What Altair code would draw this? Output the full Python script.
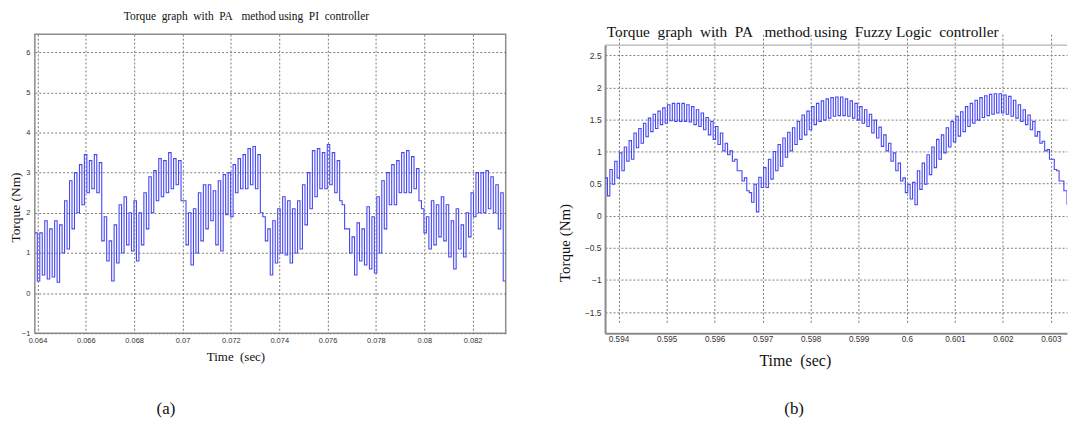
import altair as alt
import pandas as pd

# ---------------- data ----------------
TITLES = ["Torque\u00a0 graph\u00a0 with\u00a0 PA\u00a0\u00a0 method using\u00a0 PI\u00a0 controller",
          "Torque\u00a0 graph\u00a0 with\u00a0 PA\u00a0\u00a0 method using\u00a0 Fuzzy Logic\u00a0 controller"]
X_TITLE = "Time\u00a0 (sec)"
Y_TITLE = "Torque (Nm)"
PANEL_LABELS = ["(a)", "(b)"]

LEFT_X_TICKS = [0.064, 0.066, 0.068, 0.07, 0.072, 0.074, 0.076, 0.078, 0.08, 0.082]
LEFT_Y_TICKS = [-1, 0, 1, 2, 3, 4, 5, 6]
RIGHT_X_TICKS = [0.594, 0.595, 0.596, 0.597, 0.598, 0.599, 0.6, 0.601, 0.602, 0.603]
RIGHT_Y_TICKS = [-1.5, -1, -0.5, 0, 0.5, 1, 1.5, 2, 2.5]

LEFT_T_START = 0.06389
LEFT_T_END = 0.083368
RIGHT_T_START = 0.59372
RIGHT_T_END = 0.603335
RIGHT_PULSE = 0.0001

# PI controller: high / low level of each switching pulse
LEFT_HI = [1.5, 1.5, 1.8, 1.6, 1.8, 1.7, 2.3, 2.8, 3.0, 3.2, 3.45, 3.3, 3.45, 3.25, 1.9, 1.3,
           1.7, 2.2, 2.4, 2.0, 2.3, 2.0, 2.5, 2.9, 3.05, 3.35, 3.3, 3.5, 3.35, 3.3, 2.3, 2.0,
           2.1, 2.5, 2.7, 2.7, 2.55, 2.8, 2.95, 3.0, 3.2, 3.35, 3.45, 3.6, 3.65, 3.45, 1.9, 1.6,
           1.8, 2.1, 2.4, 2.3, 2.1, 2.3, 2.7, 3.0, 3.55, 3.6, 3.5, 3.7, 3.5, 3.3, 2.2,
           1.6, 1.4, 1.75, 1.6, 2.15, 1.9, 2.4, 2.8, 3.0, 3.2, 3.3, 3.5, 3.55, 3.4, 3.1, 2.1,
           1.9, 2.3, 2.2, 2.4, 2.2, 1.8, 2.1, 1.7, 2.0, 2.5, 3.0, 3.0, 3.05, 2.9, 2.7, 2.5]
LEFT_LO = [0.3, 0.45, 0.35, 0.4, 0.27, 1.0, 1.1, 1.6, 2.0, 2.2, 2.5, 2.6, 2.5, 1.3, 0.8, 0.3,
           0.75, 1.0, 1.2, 1.05, 0.8, 1.2, 1.6, 2.0, 2.3, 2.4, 2.5, 2.6, 2.7, 2.3, 1.2, 0.7,
           1.0, 1.3, 1.6, 1.8, 1.2, 1.05, 1.95, 1.9, 2.5, 2.6, 2.6, 2.7, 2.6, 2.0, 1.3, 0.45,
           0.75, 1.0, 0.95, 0.75, 1.0, 1.1, 1.7, 2.1, 2.4, 2.6, 2.6, 2.7, 2.5, 2.3, 1.6,
           1.0, 0.45, 0.8, 0.7, 0.6, 0.5, 1.0, 1.6, 2.2, 2.2, 2.5, 2.5, 2.5, 2.6, 2.3, 1.5,
           1.1, 1.2, 1.4, 1.3, 0.9, 0.6, 1.1, 0.9, 1.4, 1.9, 2.0, 2.0, 2.1, 2.0, 1.6, 0.3]

# Fuzzy logic controller: high / low level of each 0.1 ms pulse
RIGHT_HI = [0.59, 0.72, 0.85, 0.98, 1.07, 1.17, 1.29, 1.36, 1.44, 1.52, 1.58, 1.63, 1.68, 1.73, 1.75, 1.75,
            1.75, 1.73, 1.70, 1.65, 1.60, 1.53, 1.47, 1.39, 1.29, 1.13, 1.01, 0.88, 0.70, 0.59, 0.36, 0.49, 0.60,
            0.75, 0.88, 1.0, 1.11, 1.21, 1.30, 1.37, 1.47, 1.57, 1.63, 1.70, 1.75, 1.79, 1.82, 1.84, 1.85,
            1.85, 1.82, 1.79, 1.75, 1.70, 1.65, 1.58, 1.49, 1.38, 1.26, 1.13, 0.98, 0.82, 0.59, 0.49,
            0.52, 0.70, 0.82, 0.95, 1.07, 1.19, 1.26, 1.37, 1.47, 1.55, 1.62, 1.70, 1.75, 1.80, 1.84, 1.87,
            1.89, 1.90, 1.90, 1.88, 1.86, 1.80, 1.73, 1.65, 1.57, 1.47, 1.31, 1.16, 1.03, 0.88, 0.70, 0.54, 0.39]
RIGHT_LO = [0.31, 0.49, 0.59, 0.70, 0.85, 0.88, 1.06, 1.13, 1.23, 1.31, 1.36, 1.42, 1.44, 1.48, 1.47, 1.47,
            1.47, 1.46, 1.42, 1.39, 1.34, 1.26, 1.19, 1.11, 1.01, 0.95, 0.85, 0.70, 0.54, 0.39, 0.21, 0.06, 0.44,
            0.44, 0.57, 0.70, 0.77, 0.91, 1.01, 1.11, 1.19, 1.26, 1.34, 1.42, 1.47, 1.49, 1.52, 1.55, 1.56,
            1.56, 1.55, 1.52, 1.49, 1.44, 1.39, 1.29, 1.21, 1.08, 1.01, 0.85, 0.70, 0.54, 0.36, 0.26,
            0.17, 0.41, 0.49, 0.64, 0.75, 0.88, 0.98, 1.07, 1.15, 1.24, 1.31, 1.39, 1.44, 1.49, 1.53, 1.56,
            1.58, 1.60, 1.60, 1.58, 1.55, 1.52, 1.47, 1.42, 1.34, 1.24, 1.13, 1.01, 0.88, 0.72, 0.54, 0.39, 0.18]

# ---------------- build tables ----------------
def pulses(t0, step, hi, lo, t_end):
    rows = []
    for i, (h, l) in enumerate(zip(hi, lo)):
        rows.append({"t": t0 + i * step, "v": h})
        rows.append({"t": t0 + i * step + step / 2, "v": l})
    rows.append({"t": t_end, "v": lo[-1]})
    return pd.DataFrame(rows)

left_step = (LEFT_T_END - LEFT_T_START) / len(LEFT_HI)
left_df = pulses(LEFT_T_START, left_step, LEFT_HI, LEFT_LO, LEFT_T_END)
right_df = pulses(RIGHT_T_START, RIGHT_PULSE, RIGHT_HI, RIGHT_LO, RIGHT_T_END)

SERIF = "Liberation Serif"
SANS = "Liberation Sans"
LINE_COLOR = "#4646f4"
GRID = dict(grid=True, gridColor="#7a7a7a", gridDash=[2, 2], gridWidth=1, ticks=False,
            labelFont=SANS, labelColor="#333333", titleFont=SERIF, titleFontWeight="normal",
            titleColor="#111111", titleAlign="center", titleBaseline="middle", format="~g")

# ---------------- left panel (PI) ----------------
LW, LH = 474, 301
left_line = alt.Chart(left_df).mark_line(
    interpolate="step-after", color=LINE_COLOR, strokeWidth=1.1, clip=True
).encode(
    x=alt.X("t:Q", scale=alt.Scale(domain=[LEFT_T_START, LEFT_T_END], nice=False, zero=False),
            axis=alt.Axis(values=LEFT_X_TICKS, title=X_TITLE, titleX=202, titleY=23.5,
                          titleFontSize=13, labelFontSize=7.5, labelPadding=3.5, domain=False, **GRID)),
    y=alt.Y("v:Q", scale=alt.Scale(domain=[-1, 6.45], nice=False, zero=False),
            axis=alt.Axis(values=LEFT_Y_TICKS, title=Y_TITLE, titleX=-19, titleY=174,
                          titleFontSize=13.5, labelFontSize=7.5, labelPadding=5, domain=False, **GRID)),
)
left_label = alt.Chart(pd.DataFrame({"lab": [PANEL_LABELS[0]]})).mark_text(
    font=SERIF, fontSize=17, color="#111111", align="center", baseline="middle"
).encode(x=alt.value(132), y=alt.value(377.7), text="lab:N")

left = alt.layer(left_line, left_label).properties(
    width=LW, height=LH,
    title=alt.TitleParams(TITLES[0], font=SERIF, fontSize=11.5, fontWeight="normal", color="#111111",
                          anchor="middle", frame="group", dx=-24, offset=1, baseline="bottom"),
    view=alt.ViewBackground(stroke="#8c8c8c", strokeWidth=1.5),
)

# ---------------- right panel (Fuzzy) ----------------
RW, RH = 465, 301
TOP_GAP = 11
right_line = alt.Chart(right_df).mark_line(
    interpolate="step-after", color=LINE_COLOR, strokeWidth=1.1, clip=True
).encode(
    x=alt.X("t:Q", scale=alt.Scale(domain=[RIGHT_T_START, RIGHT_T_END], nice=False, zero=False),
            axis=alt.Axis(values=RIGHT_X_TICKS, title=X_TITLE, titleX=191, titleY=27.7,
                          titleFontSize=16, labelFontSize=8.2, labelPadding=2, domain=True,
                          domainColor="#8a8a8a", domainWidth=2, **GRID)),
    y=alt.Y("v:Q", scale=alt.Scale(domain=[-1.83, 2.658], nice=False, zero=False, range=[RH, TOP_GAP]),
            axis=alt.Axis(values=RIGHT_Y_TICKS, title=Y_TITLE, titleX=-41, titleY=209.7,
                          titleFontSize=15, labelFontSize=8.5, labelPadding=4, domain=True,
                          domainColor="#8a8a8a", domainWidth=2, **GRID)),
)
right_top = alt.Chart(pd.DataFrame({"lab": [PANEL_LABELS[1]]})).mark_rule(
    color="#a0a0a0", strokeWidth=1
).encode(x=alt.value(0), x2=alt.value(RW), y=alt.value(TOP_GAP))
right_label = alt.Chart(pd.DataFrame({"lab": [PANEL_LABELS[1]]})).mark_text(
    font=SERIF, fontSize=17, color="#111111", align="center", baseline="middle"
).encode(x=alt.value(190.3), y=alt.value(377.7), text="lab:N")

right = alt.layer(right_line, right_top, right_label).properties(
    width=RW, height=RH,
    title=alt.TitleParams(TITLES[1], font=SERIF, fontSize=15.4, fontWeight="normal", color="#111111",
                          anchor="middle", frame="group", dx=-33.5, offset=0, dy=21, baseline="bottom"),
    view=alt.ViewBackground(stroke="transparent"),
)

chart = alt.hconcat(left, right, spacing=50).properties(
    padding=0, background="white"
)

chart.save("out.html", embed_options={"renderer": "svg", "actions": False})
